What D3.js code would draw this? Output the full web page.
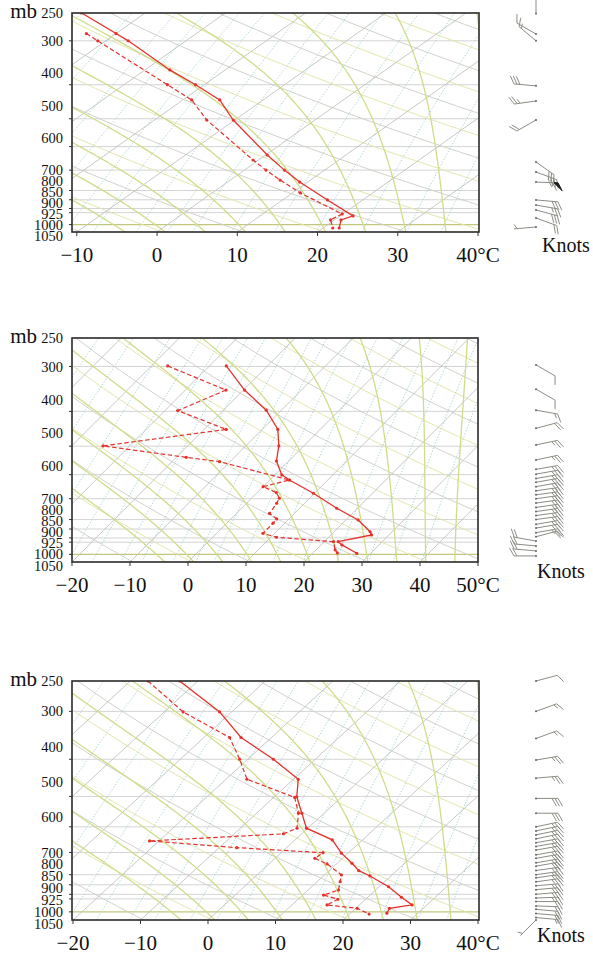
<!DOCTYPE html>
<html><head><meta charset="utf-8">
<script src="https://cdnjs.cloudflare.com/ajax/libs/d3/7.8.5/d3.min.js"></script>
<style>
html,body{margin:0;padding:0;background:#fff;}
svg{display:block;}
text{font-family:"Liberation Serif","Times New Roman",serif;fill:#111;}
</style></head><body>
<svg id="c" width="593" height="955"></svg>
<script>
// ---------- axis / tick data ----------
const pressureTicks = [250,300,400,500,600,700,800,850,900,925,1000,1050];
const isobarLevels  = [300,400,500,600,700,800,850,900,925,1000];
const tempTicks1 = [-10,0,10,20,30,40];
const tempTicks2 = [-20,-10,0,10,20,30,40,50];
const tempTicks3 = [-20,-10,0,10,20,30,40];

// background line families
const isothermVals = [-130,-120,-110,-100,-90,-80,-70,-60,-50,-40,-30,-20,-10,0,10,20,30,40,50];
const dryThetaVals = [250,260,270,280,290,300,310,320,330,340,350,360,370,380,390,400,410,420,430,440,450,460,470,480,490,500];
const moistStartVals = [-4,1,6,11,16,21,26,31,36,41,46,51,56];
const mixRatioVals = [0.1,0.2,0.4,0.7,1,1.5,2,3,4,5,7,10,14,20,28,36,48];

// ---------- sounding 1 ----------
const s1TempPres = [250,286,300,363,400,442,504,634,700,757,851,945,970,1023];
const s1Temp     = [-47.9,-40.0,-37.2,-26.9,-21.1,-15.4,-10.2,0.2,5.0,9.0,15.6,21.6,20.8,22.0];
const s1DewPres  = [286,300,400,442,504,655,700,747,813,933,970,1023];
const s1Dew      = [-43.7,-41.0,-24.6,-18.9,-13.5,-0.7,2.7,6.2,11.0,19.9,19.5,21.2];
const s1WindPres = [251,287,300,403,445,504,664,709,757,851,880,909,958,1016];
const s1WindDir  = [0,300,310,275,262,240,125,110,92,95,100,105,110,265];
const s1WindSpd  = [3,10,15,30,25,20,30,35,65,30,25,30,20,5];

// ---------- sounding 2 ----------
const s2TempPres = [299,349,397,449,499,550,601,621,676,744,802,865,883,922,941,993];
const s2Temp     = [-27.1,-19.8,-12.6,-7.3,-4.3,-2.1,1.2,3.4,9.8,16.4,22.1,26.2,27.0,22.4,23.6,27.6];
const s2DewPres  = [299,349,398,449,499,537,552,621,648,673,698,721,769,797,819,874,896,922,972,991];
const s2Dew      = [-37.2,-23.0,-27.8,-16.2,-34.6,-18.3,-11.8,3.4,0.0,3.3,4.8,5.2,5.7,7.9,8.0,8.0,11.0,21.6,23.3,24.2];
const s2WindPres = [297,347,397,446,496,546,580,598,615,630,648,665,683,700,720,740,760,780,800,825,845,870,893,918,947,978,1010];
const s2WindDir  = [120,120,100,75,78,78,80,80,80,80,80,82,82,82,82,82,82,82,82,80,80,80,75,280,275,275,270];
const s2WindSpd  = [10,10,15,20,25,25,25,25,25,30,30,30,30,30,30,30,25,25,25,25,25,25,20,20,20,20,20];

// ---------- sounding 3 ----------
const s3TempPres = [250,301,351,400,451,501,553,605,649,703,747,781,806,860,916,959,979,1008];
const s3Temp     = [-42.7,-31.8,-24.5,-16.2,-9.3,-6.7,-3.3,-0.2,5.5,9.0,12.2,14.4,16.9,21.4,25.0,27.8,25.0,25.4];
const s3DewPres  = [250,301,351,400,451,503,553,605,626,653,680,701,725,750,801,834,877,904,927,959,979,1013];
const s3Dew      = [-47.4,-37.2,-26.2,-21.2,-16.9,-6.9,-3.8,-1.6,-2.7,-21.4,-7.4,6.2,5.9,8.6,12.5,13.4,14.5,13.1,15.9,15.2,20.2,22.9];
const s3WindPres = [250,300,353,402,448,506,553,600,615,630,645,660,675,690,710,725,745,760,780,800,815,835,855,875,900,920,940,965,985,1010,1035,1050];
const s3WindDir  = [75,70,70,80,85,90,90,78,78,78,78,80,80,80,80,80,80,80,82,82,82,82,85,85,85,88,90,92,95,95,95,225];
const s3WindSpd  = [10,15,15,25,25,30,30,25,25,25,25,25,25,25,30,30,30,30,30,25,25,25,25,25,25,25,20,20,20,20,15,3];

// ---------- layout ----------
const SKEW = 38.5; // degC of skew from 1050 to 250 mb
const panels = [
  {top:13, bottom:232, left:72, right:479, tDom:[-10.6,40], tRng:[72,478], ticks:tempTicks1,
   T:[s1TempPres,s1Temp], D:[s1DewPres,s1Dew], W:[s1WindPres,s1WindDir,s1WindSpd], knots:[542,252]},
  {top:338, bottom:562, left:72, right:478, tDom:[-20,50], tRng:[72,478], ticks:tempTicks2,
   T:[s2TempPres,s2Temp], D:[s2DewPres,s2Dew], W:[s2WindPres,s2WindDir,s2WindSpd], knots:[537,578]},
  {top:681, bottom:920, left:72, right:479, tDom:[-20,40], tRng:[73,478], ticks:tempTicks3,
   T:[s3TempPres,s3Temp], D:[s3DewPres,s3Dew], W:[s3WindPres,s3WindDir,s3WindSpd], knots:[537,942]}
];

// ---------- thermodynamics ----------
const RD=287.04, CP=1005.7, LV=2.501e6, EPS=0.622;
const es = tc => 6.112*Math.exp(17.67*tc/(tc+243.5));
function moistCurve(t0){
  const out=[]; let p=1050, T=t0+273.15; out.push([p,T-273.15]);
  const f=(pp,TT)=>{const e=es(TT-273.15); const rs=EPS*e/(pp-e);
    return (RD*TT+LV*rs)/(pp*(CP+LV*LV*rs*EPS/(RD*TT*TT)));};
  while(p>240){ const dp=-5; const k1=f(p,T); const k2=f(p+dp/2,T+k1*dp/2); T+=k2*dp; p+=dp; out.push([p,T-273.15]); }
  return out;
}
const presSamples = (()=>{const a=[]; for(let p=1050;p>=240;p-=10)a.push(p); return a;})();
function tdFromW(w,p){const e=w*p/(622+w); const l=Math.log(e/6.112); return 243.5*l/(17.67-l);}

const svg = d3.select("#c");
const RED = "#e5312b";

panels.forEach((P,i)=>{
  const y = d3.scaleLog().domain([1050,250]).range([P.bottom,P.top]);
  const xs = d3.scaleLinear().domain(P.tDom).range(P.tRng);
  const frac = p => (P.bottom - y(p))/(P.bottom - P.top);
  const X = (t,p) => xs(t + SKEW*frac(p));
  const line = d3.line().x(d=>X(d[1],d[0])).y(d=>y(d[0]));

  const clipId = "clip"+i;
  svg.append("clipPath").attr("id",clipId).append("rect")
    .attr("x",P.left).attr("y",P.top).attr("width",P.right-P.left).attr("height",P.bottom-P.top);
  const g = svg.append("g").attr("clip-path",`url(#${clipId})`);

  // isobars
  g.selectAll(".isobar").data(isobarLevels).join("line")
    .attr("x1",P.left).attr("x2",P.right).attr("y1",d=>y(d)).attr("y2",d=>y(d))
    .attr("stroke",d=>d===1000?"#c3c77e":"#d4d4d4").attr("stroke-width",d=>d===1000?1.3:1);

  // dry adiabats
  dryThetaVals.forEach((th,j)=>{
    const pts = presSamples.map(p=>[p, th*Math.pow(p/1000,0.2857)-273.15]);
    g.append("path").attr("d",line(pts)).attr("fill","none")
      .attr("stroke", j%2===0 ? "#e3e7ad" : "#d2d2ca").attr("stroke-width",1);
  });
  // isotherms
  isothermVals.forEach(t=>{
    g.append("path").attr("d",line([[1050,t],[250,t]])).attr("fill","none")
      .attr("stroke","#c2c2be").attr("stroke-width",0.9);
  });
  // mixing ratio
  mixRatioVals.forEach(w=>{
    const pts = presSamples.map(p=>[p, tdFromW(w,p)]);
    g.append("path").attr("d",line(pts)).attr("fill","none")
      .attr("stroke","#a3d4cf").attr("stroke-width",1).attr("stroke-dasharray","1.2,1.8");
  });
  // moist adiabats
  moistStartVals.forEach(t0=>{
    g.append("path").attr("d",line(moistCurve(t0))).attr("fill","none")
      .attr("stroke","#d0dc8a").attr("stroke-width",1.3);
  });

  // profiles
  const tData = P.T[0].map((p,k)=>[p,P.T[1][k]]);
  const dData = P.D[0].map((p,k)=>[p,P.D[1][k]]);
  g.append("path").attr("d",line(dData)).attr("fill","none").attr("stroke",RED)
    .attr("stroke-width",1.2).attr("stroke-dasharray","4.5,2.5");
  g.append("path").attr("d",line(tData)).attr("fill","none").attr("stroke",RED).attr("stroke-width",1.3);
  g.selectAll(".pt").data(tData.concat(dData)).join("circle")
    .attr("cx",d=>X(d[1],d[0])).attr("cy",d=>y(d[0])).attr("r",1.6).attr("fill",RED);

  // frame
  svg.append("rect").attr("x",P.left).attr("y",P.top).attr("width",P.right-P.left).attr("height",P.bottom-P.top)
    .attr("fill","none").attr("stroke","#2a2a2a").attr("stroke-width",1.6);

  // bottom ticks + labels
  svg.selectAll(null).data(P.ticks).join("line")
    .attr("x1",d=>xs(d)).attr("x2",d=>xs(d)).attr("y1",P.bottom).attr("y2",P.bottom+4)
    .attr("stroke","#333").attr("stroke-width",1);
  svg.selectAll(null).data(P.ticks).join("text")
    .attr("x",d=>xs(d)).attr("y",P.bottom+30).attr("text-anchor","middle").attr("font-size",21)
    .text((d,k)=> (d<0?"\u2212"+Math.abs(d):String(d)) + (k===P.ticks.length-1?"\u00B0C":""));

  // left ticks at true isobar positions
  svg.selectAll(null).data(pressureTicks.slice(1,-1)).join("line")
    .attr("x1",P.left-3).attr("x2",P.left).attr("y1",d=>y(d)).attr("y2",d=>y(d))
    .attr("stroke","#333").attr("stroke-width",1);

  // pressure labels (placed as in the original figure)
  const low = pressureTicks.filter(p=>p>700);
  const labelY = p => {
    if (p<=300) return y(p);
    if (p<=700) return y(300) + (p-300)/400*(y(700)-y(300));
    const idx = low.indexOf(p)+1;
    return y(700) + idx*((P.bottom+3.5)-y(700))/low.length;
  };
  svg.selectAll(null).data(pressureTicks).join("text")
    .attr("x",63).attr("y",d=>labelY(d)).attr("dy","0.35em").attr("text-anchor","end")
    .attr("font-size",14.5).text(d=>d);
  svg.append("text").attr("x",37).attr("y",P.top+5).attr("text-anchor","end").attr("font-size",21).text("mb");

  // wind barbs
  const bx = 536, L = 22;
  const wg = svg.append("g").attr("stroke","#8d8c84").attr("stroke-width",1).attr("fill","none");
  P.W[0].forEach((p,k)=>{
    const dir = P.W[1][k]*Math.PI/180, spd = Math.round(P.W[2][k]/5)*5;
    const sy = y(p);
    const ux = Math.sin(dir), uy = -Math.cos(dir);
    const c = Math.cos(Math.PI/3), s = Math.sin(Math.PI/3);
    const vx = ux*c - uy*s, vy = ux*s + uy*c;
    const pt = d => [bx+ux*d, sy+uy*d];
    const e = pt(L);
    wg.append("line").attr("x1",bx).attr("y1",sy).attr("x2",e[0]).attr("y2",e[1]);
    let rem = spd, pos = L;
    const n50 = Math.floor(rem/50); rem -= n50*50;
    const n10 = Math.floor(rem/10); rem -= n10*10;
    const n5 = rem>=5 ? 1 : 0;
    for(let q=0;q<n50;q++){
      const a=pt(pos), b=pt(pos-4);
      wg.append("path").attr("d",`M${a[0]},${a[1]}L${a[0]+vx*9},${a[1]+vy*9}L${b[0]},${b[1]}Z`)
        .attr("fill","#1a1a1a").attr("stroke","#1a1a1a");
      pos -= 5.5;
    }
    for(let q=0;q<n10;q++){
      const a=pt(pos);
      wg.append("line").attr("x1",a[0]).attr("y1",a[1]).attr("x2",a[0]+vx*9).attr("y2",a[1]+vy*9);
      pos -= 3;
    }
    if(n5){
      if(n50+n10===0) pos -= 3;
      const a=pt(pos);
      wg.append("line").attr("x1",a[0]).attr("y1",a[1]).attr("x2",a[0]+vx*5).attr("y2",a[1]+vy*5);
    }
    svg.append("circle").attr("cx",bx).attr("cy",sy).attr("r",1).attr("fill","#666");
  });
  svg.append("text").attr("x",P.knots[0]).attr("y",P.knots[1]).attr("font-size",20).text("Knots");
});
</script>
</body></html>
